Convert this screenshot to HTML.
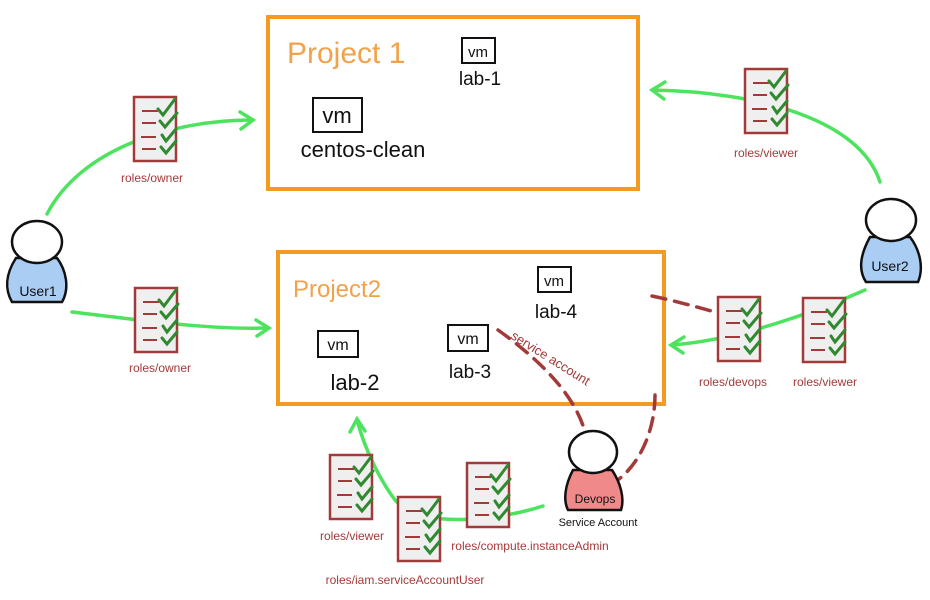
<!DOCTYPE html>
<html><head><meta charset="utf-8"><style>
html,body{margin:0;padding:0;background:#fff}
svg{display:block}
text{font-family:"Liberation Sans",sans-serif}
</style></head><body>
<svg width="930" height="600" viewBox="0 0 930 600" xmlns="http://www.w3.org/2000/svg">
<defs>
<g id="doc">
<rect x="0" y="0" width="42" height="64" fill="#efefef" stroke="#a33a3a" stroke-width="2.5"/>
<g stroke="#a33a3a" stroke-width="2" fill="none">
<line x1="8" y1="14" x2="24" y2="14"/><line x1="8" y1="26" x2="22" y2="26"/>
<line x1="7" y1="40" x2="22" y2="40"/><line x1="8" y1="52" x2="22" y2="52"/></g>
<g stroke="#2f8a2f" stroke-width="3" fill="none" stroke-linecap="round">
<path d="M24 12 l5 6 l12 -16"/><path d="M26 24 l5 6 l12 -14"/>
<path d="M28 38 l4 6 l10 -12"/><path d="M27 50 l5 6 l10 -12"/></g>
</g>
</defs>

<!-- projects -->
<rect x="268" y="17" width="370" height="172" fill="none" stroke="#f29a22" stroke-width="4"/>
<text x="287" y="63" font-size="30" fill="#f2a24a">Project 1</text>
<rect x="278" y="252" width="386" height="152" fill="none" stroke="#f29a22" stroke-width="4"/>
<text x="293" y="297" font-size="24" fill="#f2a24a">Project2</text>

<!-- VMs -->
<g fill="none" stroke="#111" stroke-width="2">
<rect x="462" y="38" width="33" height="25"/>
<rect x="313" y="98" width="49" height="34"/>
<rect x="538" y="267" width="33" height="25"/>
<rect x="318" y="331" width="40" height="26"/>
<rect x="448" y="325" width="40" height="26"/>
</g>
<g fill="#111" text-anchor="middle">
<text x="478" y="57" font-size="15">vm</text>
<text x="480" y="85" font-size="19">lab-1</text>
<text x="337" y="123" font-size="22">vm</text>
<text x="363" y="157" font-size="22">centos-clean</text>
<text x="554" y="286" font-size="15">vm</text>
<text x="556" y="318" font-size="19">lab-4</text>
<text x="338" y="350" font-size="16">vm</text>
<text x="355" y="390" font-size="22">lab-2</text>
<text x="468" y="344" font-size="16">vm</text>
<text x="470" y="378" font-size="19">lab-3</text>
</g>

<!-- green arrows -->
<g fill="none" stroke="#4ee35e" stroke-width="3.5" stroke-linecap="round">
<path d="M47 214 C80 150 170 120 252 120"/><path d="M240 112 l13 8 l-12 9"/>
<path d="M72 312 C140 320 210 330 268 328"/><path d="M256 320 l13 8 l-12 8"/>
<path d="M880 182 C860 120 760 92 652 90"/><path d="M665 82 l-13 8 l12 9"/>
<path d="M865 290 C820 310 740 340 672 345"/><path d="M684 337 l-13 8 l12 8"/>
<path d="M543 506 C500 520 420 530 395 500 C380 480 365 450 357 420"/><path d="M350 432 l7 -13 l8 12"/>
</g>

<!-- red dashed -->
<g fill="none" stroke="#a33a3a" stroke-width="3.5" stroke-dasharray="14 9" stroke-linecap="round">
<path d="M652 296 C680 302 700 308 715 312"/>
<path d="M498 330 C540 360 575 395 585 432"/>
<path d="M655 395 C655 430 640 465 615 482"/>
</g>
<text x="510" y="338" font-size="13" fill="#a33a3a" transform="rotate(32 510 338)">service account</text>

<!-- docs -->
<use href="#doc" x="134" y="97"/>
<use href="#doc" x="135" y="288"/>
<use href="#doc" x="745" y="69"/>
<use href="#doc" x="718" y="297"/>
<use href="#doc" x="803" y="298"/>
<use href="#doc" x="330" y="455"/>
<use href="#doc" x="398" y="497"/>
<use href="#doc" x="467" y="463"/>
<g fill="#a33a3a" font-size="12" text-anchor="middle">
<text x="152" y="182">roles/owner</text>
<text x="160" y="372">roles/owner</text>
<text x="766" y="157">roles/viewer</text>
<text x="733" y="386">roles/devops</text>
<text x="825" y="386">roles/viewer</text>
<text x="352" y="540">roles/viewer</text>
<text x="405" y="584">roles/iam.serviceAccountUser</text>
<text x="530" y="550">roles/compute.instanceAdmin</text>
</g>

<!-- users -->
<g stroke="#111" stroke-width="2.5">
<path d="M16 258 C5 275 5 290 12 302 L62 302 C70 288 66 270 57 258 Z" fill="#a9cdf3"/>
<ellipse cx="37" cy="242" rx="25" ry="21" fill="#fff"/>
<path d="M870 237 C860 255 858 270 866 282 L918 282 C924 268 920 250 910 237 Z" fill="#a9cdf3"/>
<ellipse cx="891" cy="220" rx="25" ry="21" fill="#fff"/>
<path d="M573 470 C565 485 563 500 568 510 L621 510 C625 498 620 482 612 470 Z" fill="#f08a8a"/>
<ellipse cx="593" cy="452" rx="24" ry="21" fill="#fff"/>
</g>
<g fill="#111" text-anchor="middle">
<text x="38" y="296" font-size="14">User1</text>
<text x="890" y="271" font-size="14">User2</text>
<text x="595" y="503" font-size="12">Devops</text>
<text x="598" y="526" font-size="11">Service Account</text>
</g>
</svg>
</body></html>
